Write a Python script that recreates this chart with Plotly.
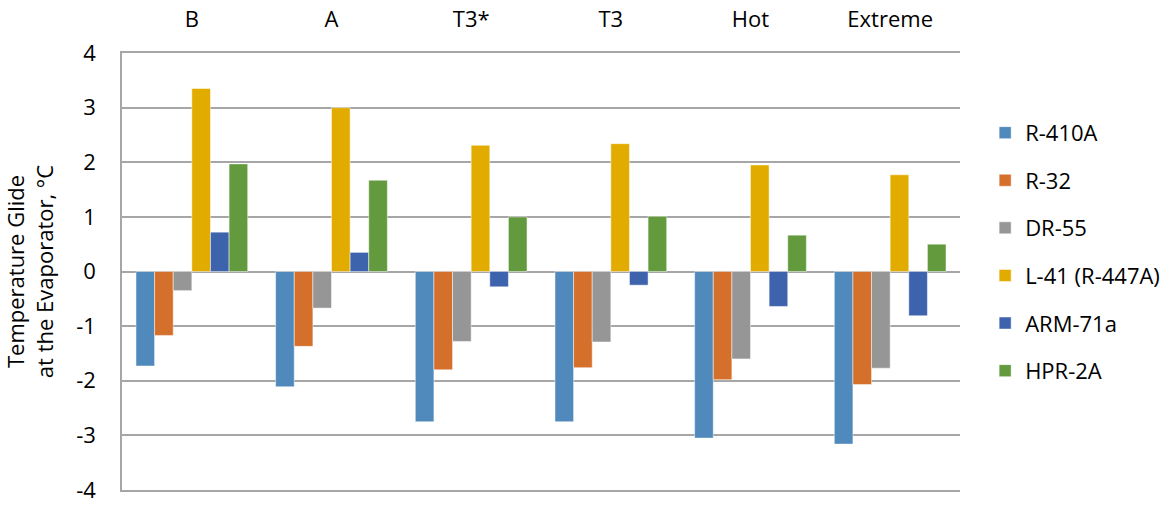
import plotly.graph_objects as go

# ---------------------------- Data -------------------------------------------
conditions = ["B", "A", "T3*", "T3", "Hot", "Extreme"]

r410a = [-1.73, -2.11, -2.75, -2.75, -3.05, -3.16]
r32 = [-1.17, -1.37, -1.80, -1.76, -1.98, -2.07]
dr55 = [-0.35, -0.67, -1.28, -1.29, -1.60, -1.77]
l41 = [3.35, 3.00, 2.31, 2.34, 1.95, 1.77]
arm71a = [0.72, 0.35, -0.28, -0.25, -0.64, -0.81]
hpr2a = [1.97, 1.67, 1.00, 1.01, 0.665, 0.50]

series_names = ["R-410A", "R-32", "DR-55", "L-41 (R-447A)", "ARM-71a", "HPR-2A"]
series_values = [r410a, r32, dr55, l41, arm71a, hpr2a]
series_colors = ["#508ABD", "#D46F2C", "#969696", "#E2AB00", "#3D63AD", "#639A3E"]

y_ticks = [-4, -3, -2, -1, 0, 1, 2, 3, 4]
y_tick_text = ["-4", "-3", "-2", "-1", "0", "1", "2", "3", "4"]

# ---------------------------- Figure -----------------------------------------
fig = go.Figure()
for name, vals, col in zip(series_names, series_values, series_colors):
    fig.add_trace(go.Bar(
        x=conditions,
        y=vals,
        name=name,
        legendgroup=name,
        marker=dict(color=col, line=dict(color="rgba(255,255,255,0.6)", width=0.8)),
    ))

font_family = "Open Sans, Liberation Sans, sans-serif"
grid_col = "#A6A6A6"

fig.update_layout(
    width=1175,
    height=506,
    barmode="group",
    bargap=0.2,
    bargroupgap=0,
    plot_bgcolor="white",
    paper_bgcolor="white",
    font=dict(family=font_family, size=22, color="#000000"),
    margin=dict(l=122, r=215, t=53, b=16, autoexpand=False),
    legend=dict(
        x=1.03, y=0.545, xanchor="left", yanchor="middle",
        font=dict(size=22),
        tracegroupgap=16,
        itemwidth=30,
    ),
)

# x axis on top; its line (mirrored) gives the gridlines at 4 and -4
fig.update_xaxes(
    side="top",
    automargin=False,
    showgrid=False,
    showline=True,
    mirror=True,
    linecolor=grid_col,
    linewidth=1.5,
    ticks="",
    ticklabelstandoff=15,
    tickfont=dict(size=22),
)

fig.update_yaxes(
    range=[-4, 4],
    tickvals=y_ticks,
    ticktext=y_tick_text,
    automargin=False,
    showgrid=True,
    gridcolor=grid_col,
    gridwidth=1.5,
    zeroline=True,
    zerolinecolor=grid_col,
    zerolinewidth=1.5,
    showline=True,
    linecolor=grid_col,
    linewidth=1.5,
    ticks="",
    ticklabelstandoff=20,
    ticklabeloverflow="allow",
    tickfont=dict(size=22),
    title=dict(text="Temperature Glide<br>at the Evaporator, °C", font=dict(size=22), standoff=22),
)

# drop the default page margin so the figure sits at the window's corner
fig.write_html("out.html", config={"displayModeBar": False},
               post_script="document.body.style.margin='0';")
